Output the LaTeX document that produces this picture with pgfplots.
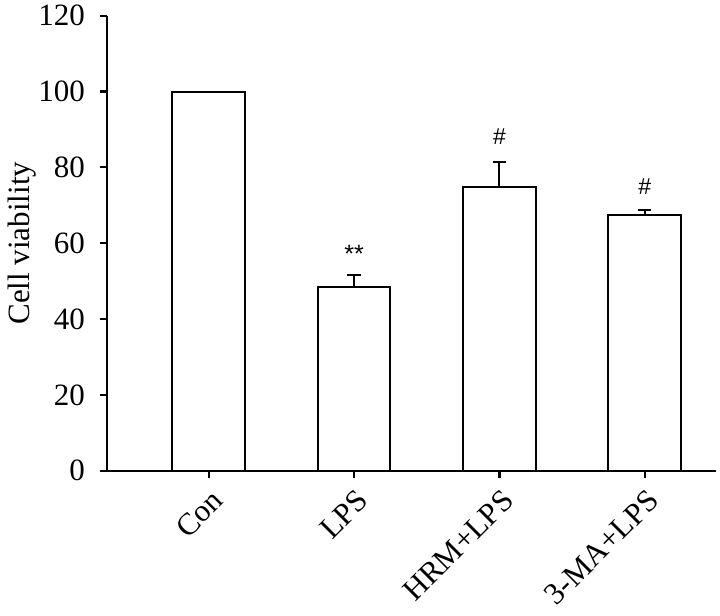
\documentclass[border=0pt]{standalone}
\usepackage{pgfplots}
\pgfplotsset{compat=1.18}
\usepackage{fontspec}
\setmainfont{Liberation Serif}
\newfontfamily\annfont{Liberation Sans}

\begin{document}
\begin{tikzpicture}
\path[use as bounding box] (-53.5pt,-72.65pt) rectangle (306.5pt,235.35pt);
\begin{axis}[
    at={(0,0)}, anchor=south west,
    scale only axis,
    width=304.5pt, height=227.5pt,
    xmin=-0.7, xmax=3.49,
    ymin=0, ymax=120,
    ytick={0,20,...,120},
    xtick={0,1,2,3},
    xticklabels={Con,LPS,HRM+LPS,3-MA+LPS},
    axis x line*=bottom,
    axis y line*=left,
    axis line style={line width=1.1pt},
    tick style={line width=1.1pt, black},
    tick align=outside,
    major tick length=3.5pt,
    /pgf/number format/assume math mode=true,
    tick label style={font=\fontsize{15.5}{18}\selectfont},
    yticklabel style={xshift=-4pt},
    xticklabel style={rotate=45, anchor=north east, inner sep=1pt, xshift=-2pt, yshift=-3pt},
    label style={font=\fontsize{15.5}{18}\selectfont},
    ylabel={Cell viability},
    ylabel style={yshift=-5.5pt},
    clip=false,
]
\addplot[
    ybar, bar width=0.5, fill=white, draw=black, line width=1pt,
    error bars/.cd, y dir=plus, y explicit,
    error bar style={line width=1pt, black},
    error mark options={rotate=90, mark size=3.3pt, line width=1pt, black},
] coordinates {
    (0,100)   +- (0,0)
    (1,48.4)  +- (0,3.1)
    (2,74.9)  +- (0,6.5)
    (3,67.5)  +- (0,1.3)
};
\node[font=\annfont\fontsize{12.5}{14}\selectfont] at (axis cs:1,57.2) {**};
\node[font=\annfont\fontsize{11.5}{13}\selectfont] at (axis cs:2,88.1) {\#};
\node[font=\annfont\fontsize{11.5}{13}\selectfont] at (axis cs:3,74.9) {\#};
\end{axis}
\end{tikzpicture}
\end{document}
